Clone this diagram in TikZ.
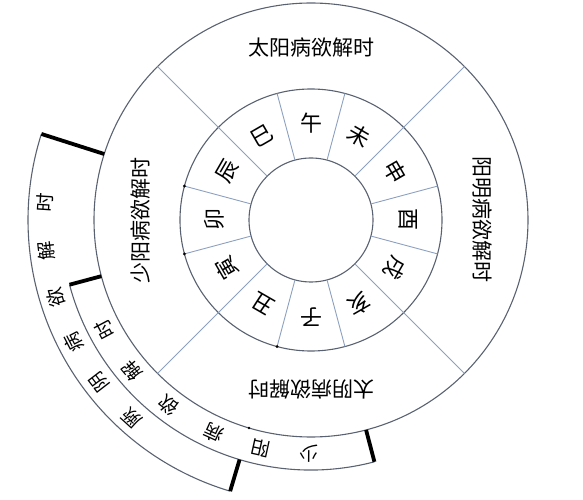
\documentclass[tikz,border=0pt]{standalone}
\usepackage{fontspec}
\setmainfont{Noto Sans CJK SC}
\usepackage{tikz}
\definecolor{ringcol}{HTML}{5A6272}
\definecolor{spokecol}{HTML}{8CA0C0}

\begin{document}
\begin{tikzpicture}[x=1pt, y=1pt,
  ring/.style={draw=ringcol, line width=1.1pt},
  spokeline/.style={draw=spokecol, line width=0.9pt},
  bar/.style={draw=black, line width=3.8pt},
  bing/.style={font=\fontsize{21}{21}\selectfont, inner sep=0pt},
  zhi/.style={font=\fontsize{22}{22}\selectfont, inner sep=0pt},
  band/.style={font=\fontsize{19}{19}\selectfont, inner sep=0pt}]
\useasboundingbox (-311,-280) rectangle (272,220);
\coordinate (O) at (0,0);

% three rings
\draw[ring] (O) circle (62);
\draw[ring] (O) circle (131);
\draw[ring] (O) circle (217);

% spokes of the branch ring, four of them run out to the big ring
\draw[spokeline] (15:62) -- (15:131) (75:62) -- (75:131) (105:62) -- (105:131)
  (165:62) -- (165:131) (195:62) -- (195:131) (255:62) -- (255:131)
  (285:62) -- (285:131) (345:62) -- (345:131);
\draw[spokeline] (45:62) -- (45:217) (135:62) -- (135:217)
  (225:62) -- (225:217) (315:62) -- (315:217);

% extra bands on the left
\draw[ring] (162.3:283) arc[start angle=162.3, end angle=253.4, radius=283];
\draw[ring] (195:250) arc[start angle=195, end angle=284.7, radius=250];
\draw[bar] (162.3:217) -- (162.3:283);
\draw[bar] (195:217) -- (195:250);
\draw[bar] (253.4:250) -- (253.4:283);
\draw[bar] (284.7:217) -- (284.7:250);

\fill (165:131) circle (1.6); \fill (195:131) circle (1.6);
\fill (255:131) circle (1.6); \fill (253.4:217) circle (1.4);

% big ring
\node[bing] (taiyang) at (90:172) {太阳病欲解时};
\node[bing, rotate=-90] (yangming) at (0:171) {阳明病欲解时};
\node[bing, rotate=180] (taiyin) at (270:169) {太阴病欲解时};
\node[bing, rotate=90] (shaoyang) at (180:170) {少阳病欲解时};

% branches
\node[zhi] (wu) at (90:97) {午};
\node[zhi, rotate=-30] (wei) at (60:97) {未};
\node[zhi, rotate=-60] (shen) at (30:97) {申};
\node[zhi, rotate=-90] (you) at (0:97) {酉};
\node[zhi, rotate=-120] (xu) at (-30:97) {戌};
\node[zhi, rotate=-150] (hai) at (-60:97) {亥};
\node[zhi, rotate=180] (zi) at (-90:97) {子};
\node[zhi, rotate=150] (chou) at (-120:97) {丑};
\node[zhi, rotate=120] (yin) at (-150:97) {寅};
\node[zhi, rotate=90] (mao) at (180:97) {卯};
\node[zhi, rotate=60] (chen) at (150:97) {辰};
\node[zhi, rotate=30] (si) at (120:97) {巳};

% jueyin band
\node[band, rotate=137.8] (jy1) at (227.8:267) {厥};
\node[band, rotate=127.5] (jy2) at (217.5:267) {阴};
\node[band, rotate=117.2] (jy3) at (207.2:267) {病};
\node[band, rotate=106.9] (jy4) at (196.9:267) {欲};
\node[band, rotate=96.6] (jy5) at (186.6:267) {解};
\node[band, rotate=86.3] (jy6) at (176.3:267) {时};

% shaoyang band
\node[band, rotate=179.5] (sy1) at (269.5:234) {少};
\node[band, rotate=167.5] (sy2) at (257.5:234) {阳};
\node[band, rotate=155.5] (sy3) at (245.5:234) {病};
\node[band, rotate=142.5] (sy4) at (232.5:234) {欲};
\node[band, rotate=130] (sy5) at (220:234) {解};
\node[band, rotate=118] (sy6) at (208:234) {时};

\end{tikzpicture}
\end{document}
